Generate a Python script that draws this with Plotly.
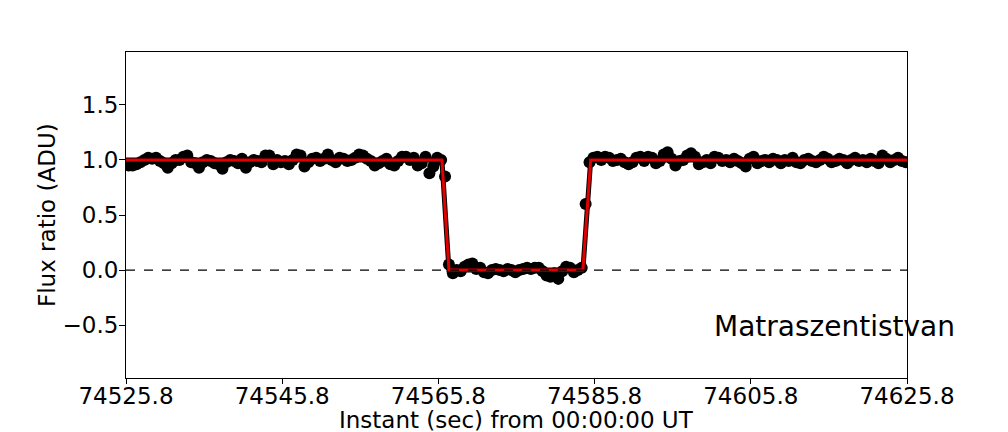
import plotly.graph_objects as go

# ---- data ----
t_start = 74526.15      # first exposure time (s)
cadence = 0.5           # seconds between exposures

flux_pre = [
    0.95, 0.95, 0.96, 0.98, 1.00, 1.02, 1.01, 1.02, 0.99, 0.97,
    0.93, 0.97, 1.00, 1.00, 1.03, 1.04, 0.98, 0.97, 0.93, 0.98,
    1.00, 0.99, 0.97, 0.96, 0.92, 0.98, 1.00, 0.99, 0.97, 1.01,
    0.93, 0.98, 1.00, 0.99, 0.98, 1.04, 1.04, 0.96, 1.00, 0.98,
    0.99, 0.96, 1.00, 1.05, 1.04, 0.94, 0.98, 1.01, 1.02, 0.99,
    1.01, 1.05, 1.00, 0.98, 1.02, 1.01, 0.99, 1.00, 1.02, 1.05,
    1.04, 1.01, 0.99, 0.95, 0.97, 0.99, 1.01, 0.96, 0.95, 0.99,
    1.03, 1.03, 1.00, 1.02, 0.95, 0.97, 1.03, 0.88, 0.94, 1.02, 1.00,
]
flux_ingress = [0.85]
flux_dip = [
    0.05, -0.03, 0.00, -0.01, 0.03, 0.05, 0.06, 0.01, 0.02, -0.02,
    -0.03, 0.00, 0.01, 0.00, -0.01, 0.01, 0.00, -0.02, 0.00, 0.01,
    0.02, 0.01, 0.02, 0.02, -0.01, -0.05, -0.06, -0.03, -0.08, -0.01,
    0.03, 0.02, -0.02, 0.00, 0.02,
]
flux_egress = [0.60]
flux_post = [
    0.98, 1.02, 1.03, 1.00, 1.03, 1.02, 0.99, 1.00, 1.01, 0.98,
    0.96, 0.98, 1.02, 1.03, 0.99, 1.03, 1.02, 0.97, 0.99, 1.05,
    1.07, 1.01, 0.95, 0.99, 1.00, 1.04, 1.06, 1.03, 0.96, 0.98,
    1.00, 0.97, 1.03, 1.02, 0.99, 1.00, 0.98, 1.01, 0.99, 0.97,
    0.94, 1.01, 1.03, 0.97, 0.99, 1.00, 0.98, 1.01, 1.00, 0.97,
    1.00, 0.99, 1.02, 0.98, 0.97, 1.00, 1.01, 0.99, 0.98, 1.00,
    1.03, 1.01, 0.98, 0.99, 1.01, 1.00, 0.97, 1.00, 1.02, 0.99,
    1.00, 0.98, 1.01, 0.99, 0.97, 1.04, 1.01, 0.98, 1.00, 1.02, 0.99, 0.98,
]

model_t = [74525.8, 74566.25, 74567.15, 74584.3, 74585.3, 74625.8]
model_f = [1.0, 1.0, 0.0, 0.0, 1.0, 1.0]

x_ticks = [74525.8, 74545.8, 74565.8, 74585.8, 74605.8, 74625.8]
x_tick_labels = ["74525.8", "74545.8", "74565.8", "74585.8", "74605.8", "74625.8"]
y_ticks = [-0.5, 0.0, 0.5, 1.0, 1.5]
y_tick_labels = ["\u22120.5", "0.0", "0.5", "1.0", "1.5"]

x_range = [74525.8, 74625.8]
y_range = [-0.98, 1.98]

site_name = "Matraszentistvan"
x_title = "Instant (sec) from 00:00:00 UT"
y_title = "Flux ratio (ADU)"

# ---- build ----
flux = flux_pre + flux_ingress + flux_dip + flux_egress + flux_post
times = [t_start + cadence * i for i in range(len(flux))]

FONT = "DejaVu Sans"

fig = go.Figure()
fig.add_trace(go.Scatter(
    x=times, y=flux, mode="markers",
    marker=dict(color="black", size=12, line=dict(width=0)),
    showlegend=False, hoverinfo="skip",
))
fig.add_trace(go.Scatter(
    x=model_t, y=model_f, mode="lines",
    line=dict(color="black", width=5),
    showlegend=False, hoverinfo="skip",
))
fig.add_trace(go.Scatter(
    x=model_t, y=model_f, mode="lines",
    line=dict(color="#e00000", width=3),
    showlegend=False, hoverinfo="skip",
))

fig.add_shape(type="line", xref="paper", yref="y", x0=0, x1=1, y0=0, y1=0,
              line=dict(color="black", width=1.3, dash="dash"))

fig.add_annotation(text=site_name, xref="paper", yref="paper", x=0.75, y=0.0,
                   xanchor="left", yanchor="middle", yshift=52, showarrow=False,
                   font=dict(family=FONT, size=28, color="black"))
fig.add_annotation(text=x_title, xref="paper", yref="paper", x=0.5, y=0.0,
                   xanchor="center", yanchor="middle", yshift=-42, showarrow=False,
                   font=dict(family=FONT, size=23, color="black"))
fig.add_annotation(text=y_title, xref="paper", yref="paper", x=0.0, y=0.5,
                   xanchor="center", yanchor="middle", xshift=-79, textangle=-90,
                   showarrow=False, font=dict(family=FONT, size=23, color="black"))

axis_common = dict(
    showgrid=False, zeroline=False, showline=True, linecolor="black", linewidth=1,
    mirror=True, ticks="outside", tickwidth=1, tickcolor="black",
    tickfont=dict(family=FONT, size=23, color="black"),
)
fig.update_xaxes(range=x_range, tickvals=x_ticks, ticktext=x_tick_labels,
                 ticklen=5, ticklabelstandoff=-8, **axis_common)
fig.update_yaxes(range=y_range, tickvals=y_ticks, ticktext=y_tick_labels,
                 ticklen=6, ticklabelstandoff=-4, **axis_common)

fig.update_layout(
    width=1008, height=432,
    margin=dict(l=126, r=101, t=52, b=54, autoexpand=False),
    plot_bgcolor="white", paper_bgcolor="white",
    font=dict(family=FONT, color="black"),
)

fig.write_html(
    "out.html",
    config={"displayModeBar": False},
    post_script="document.body.style.margin='0';document.body.style.overflow='hidden';",
)
